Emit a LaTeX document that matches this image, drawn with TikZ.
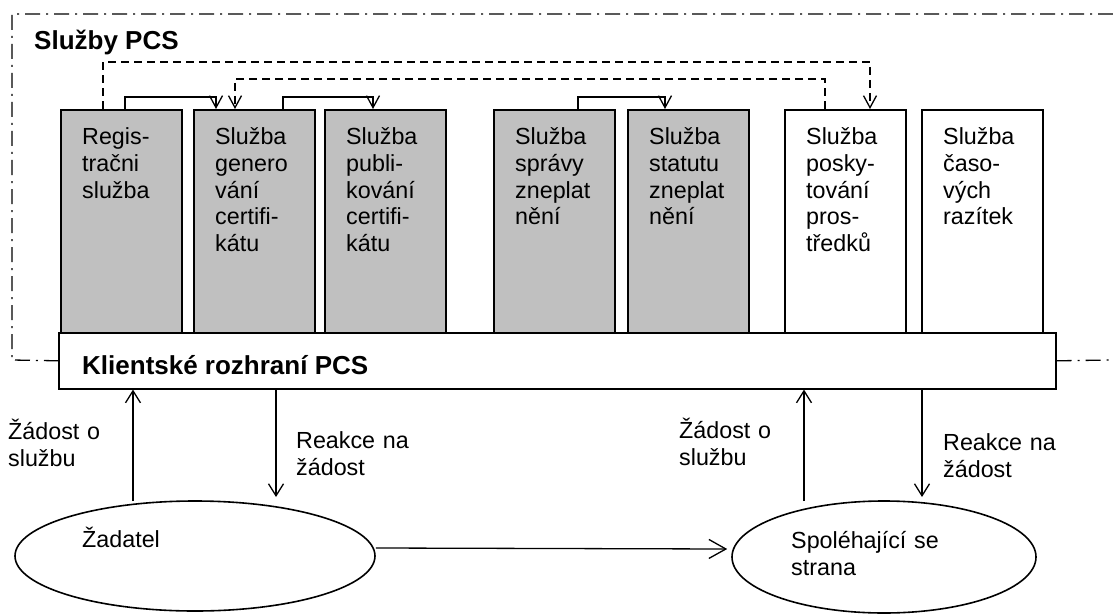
\documentclass[tikz,border=0pt]{standalone}
\usepackage{fontspec}
\setmainfont{Liberation Sans}
\usetikzlibrary{arrows.meta,shapes.geometric}
\definecolor{svcgray}{RGB}{192,192,192}
\tikzset{
  svc/.style={draw, line width=1.6pt, minimum width=121pt, minimum height=223pt,
    anchor=north west, inner sep=0pt},
  graysvc/.style={svc, fill=svcgray},
  plainsvc/.style={svc, fill=white},
  txt/.style={anchor=base west, inner sep=0pt, align=left, text width=160pt,
    font=\fontsize{23.3}{27}\selectfont},
  boldtxt/.style={anchor=base west, inner sep=0pt, font=\fontsize{26}{30}\selectfont\bfseries},
  conn/.style={line width=1.3pt, -{Straight Barb[length=12pt,width=13pt,line width=1.3pt]}},
  dconn/.style={conn, dash pattern=on 8pt off 5pt},
  vconn/.style={line width=1.3pt, -{Straight Barb[length=12pt,width=15pt,line width=1.3pt]}},
  hconn/.style={line width=1.3pt, -{Straight Barb[length=17pt,width=19pt,line width=1.3pt]}},
  frameline/.style={line width=1.3pt, dash pattern=on 15pt off 6pt on 2pt off 6pt},
  party/.style={draw, ellipse, line width=1.6pt, inner sep=0pt},
}
\begin{document}
\begin{tikzpicture}[x=1pt,y=-1pt]
\useasboundingbox (0,0) rectangle (1113,615);

% services
\node[graysvc]  (b1) at (60,109)  {};
\node[graysvc]  (b2) at (193,109) {};
\node[graysvc]  (b3) at (324,109) {};
\node[graysvc]  (b4) at (493,109) {};
\node[graysvc]  (b5) at (627,109) {};
\node[plainsvc] (b6) at (784,109) {};
\node[plainsvc] (b7) at (921,109) {};

% client interface
\node[draw, fill=white, line width=1.6pt, anchor=north west, inner sep=0pt,
      minimum width=997pt, minimum height=56pt] (client) at (58,332) {};

% enclosing dash-dot frame
\draw[frameline] (1113,14) -- (12,14) -- (12,360) -- (client.west);
\draw[frameline] (client.east) -- (1113,360);

% titles
\node[boldtxt] (ttl) at (34,50) {Služby PCS};
\node[boldtxt] (ctl) at (82,374) {Klientské rozhraní PCS};

% service labels
\node[txt] (t1) at ([xshift=22pt,yshift=-35pt]b1.north west) {Regis-\\tračni\\služba};
\node[txt] (t2) at ([xshift=22pt,yshift=-35pt]b2.north west) {Služba\\genero\\vání\\certifi-\\kátu};
\node[txt] (t3) at ([xshift=22pt,yshift=-35pt]b3.north west) {Služba\\publi-\\kování\\certifi-\\kátu};
\node[txt] (t4) at ([xshift=22pt,yshift=-35pt]b4.north west) {Služba\\správy\\zneplat\\nění};
\node[txt] (t5) at ([xshift=22pt,yshift=-35pt]b5.north west) {Služba\\statutu\\zneplat\\nění};
\node[txt] (t6) at ([xshift=22pt,yshift=-35pt]b6.north west) {Služba\\posky-\\tování\\pros-\\tředků};
\node[txt] (t7) at ([xshift=22pt,yshift=-35pt]b7.north west) {Služba\\časo-\\vých\\razítek};

% links between services
\draw[conn] ([xshift=65pt]b1.north west) -- ++(0,-12) -| ([xshift=23pt]b2.north west);
\draw[conn] ([xshift=90pt]b2.north west) -- ++(0,-12) -| ([xshift=49pt]b3.north west);
\draw[conn] ([xshift=85pt]b4.north west) -- ++(0,-12) -| ([xshift=38pt]b5.north west);
\draw[dconn] ([xshift=43pt]b1.north west) -- ++(0,-47) -| ([xshift=86pt]b6.north west);
\draw[dconn] ([xshift=41pt]b6.north west) -- ++(0,-30) -| ([xshift=42pt]b2.north west);

% parties
\node[party, minimum width=360pt, minimum height=110pt] (zad) at (195,556) {};
\node[party, minimum width=304pt, minimum height=112pt] (spol) at (884,557) {};
\node[txt] (tz) at (82,547) {Žadatel};
\node[txt] (ts) at (791,548) {Spoléhající se\\strana};

% requests and responses
\coordinate (qL) at (133,501);
\coordinate (rL) at (276,497);
\coordinate (qR) at (804,501);
\coordinate (rR) at (922,497);
\draw[vconn] (qL) -- (qL |- client.south);
\draw[vconn] (rL |- client.south) -- (rL);
\draw[vconn] (qR) -- (qR |- client.south);
\draw[vconn] (rR |- client.south) -- (rR);
\node[txt] (lq1) at (8,439)   {Žádost o\\službu};
\node[txt] (lr1) at (296,448) {Reakce na\\žádost};
\node[txt] (lq2) at (679,438) {Žádost o\\službu};
\node[txt] (lr2) at (943,450) {Reakce na\\žádost};

\draw[hconn] ([yshift=8pt]zad.east) -- ([xshift=-4pt,yshift=8pt]spol.west);
\end{tikzpicture}
\end{document}
